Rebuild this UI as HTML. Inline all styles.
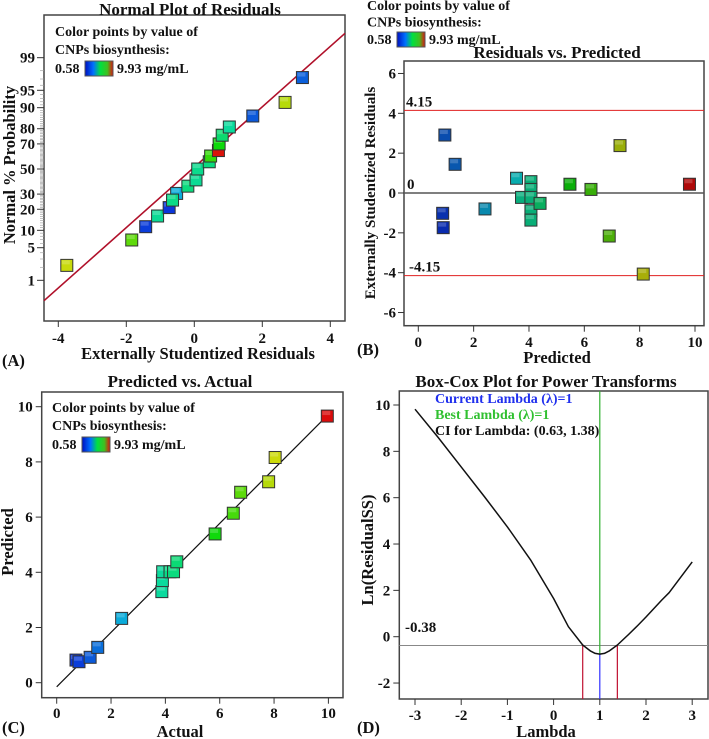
<!DOCTYPE html>
<html><head><meta charset="utf-8"><style>
html,body{margin:0;padding:0;background:#fff;}
svg{display:block;font-family:"Liberation Serif",serif;font-weight:bold;}
</style></head><body>
<svg id="fig" width="709" height="739" viewBox="0 0 709 739" xmlns="http://www.w3.org/2000/svg">
<defs>
<linearGradient id="cbar" x1="0" x2="1" y1="0" y2="0">
<stop offset="0" stop-color="#0010c0"/><stop offset="0.3" stop-color="#0070ff"/><stop offset="0.55" stop-color="#00e040"/><stop offset="0.8" stop-color="#40c020"/><stop offset="1" stop-color="#e01010"/>
</linearGradient>
</defs>
</svg>
<script>
// ---------- Panel A data ----------
const aResid = [-3.75,-1.84,-1.43,-1.08,-0.74,-0.52,-0.64,-0.19,0.05,0.10,0.44,0.48,0.71,0.73,0.82,1.03,1.72,2.67,3.18];
const aProb  = [2.2,6.9,11.4,16.3,21,30.5,25.8,36,41,50,56,60.7,65,70,76,81,86.6,91.8,97.2];
const aVal   = [8.0,6.8,0.8,4.0,0.7,2.4,4.2,4.3,4.0,4.1,4.3,6.3,9.9,5.8,4.5,3.9,1.2,7.8,1.3];
const aXTicks = [-4,-2,0,2,4];
const aYTicks = [1,5,10,20,30,50,70,80,90,95,99];
// ---------- Panel B data ----------
const bPred  = [0.96,1.33,3.55,0.88,0.90,2.41,3.73,4.07,4.07,4.07,4.07,4.07,4.40,5.48,6.24,7.29,6.90,8.13,9.80];
const bResid = [2.91,1.44,0.74,-1.02,-1.74,-0.80,-0.22,0.57,0.18,-0.22,-0.89,-1.36,-0.52,0.44,0.18,2.38,-2.16,-4.07,0.44];
const bVal   = [1.3,1.5,3.0,0.8,0.7,2.4,3.9,4.0,4.0,4.0,4.0,4.0,4.4,5.8,6.5,7.9,6.8,8.1,9.93];
const bXTicks = [0,2,4,6,8,10];
const bYTicks = [-6,-4,-2,0,2,4,6];
const bLimit = 4.15;
// ---------- Panel C data ----------
const cActual = [0.71,0.82,1.23,1.51,2.39,3.87,3.89,3.90,4.17,4.30,4.42,5.83,6.50,6.77,7.80,8.04,9.96];
const cPred   = [0.82,0.76,0.92,1.28,2.33,3.30,3.70,4.02,4.02,4.02,4.38,5.39,6.14,6.90,7.28,8.16,9.66];
const cLineX = [0,10];
const cLineY = [-0.15,9.72];
const cTicks = [0,2,4,6,8,10];
// ---------- Panel D data ----------
const dLambda = [-3,-2.5,-2,-1.5,-1,-0.5,0,0.32,0.63,0.8,0.9,1,1.1,1.2,1.38,1.6,1.83,2,2.34,2.5,3];
const dLnSS   = [9.82,8.6,7.33,6.05,4.74,3.32,1.65,0.43,-0.36,-0.62,-0.72,-0.75,-0.72,-0.62,-0.36,0.05,0.5,0.85,1.58,1.9,3.23];
const dXTicks = [-3,-2,-1,0,1,2,3];
const dYTicks = [-2,0,2,4,6,8,10];
const dRef = -0.38, dCI = [0.63,1.38], dBest = 1;

const NS="http://www.w3.org/2000/svg";
const svg=document.getElementById('fig');
const TK=15, TT=17, AX=16.5, LG=14;
function mk(tag,attrs,parent){const e=document.createElementNS(NS,tag);for(const k in attrs)e.setAttribute(k,attrs[k]);(parent||svg).appendChild(e);return e;}
function txt(x,y,s,size,anchor,fill,parent,rot){const t=mk('text',{x:x,y:y,'font-size':size,'text-anchor':anchor||'start',fill:fill||'#111'},parent);if(rot)t.setAttribute('transform','rotate(-90 '+x+' '+y+')');t.textContent=s;return t;}
function colorOf(v,l){let t=(v-0.58)/9.35;t=Math.max(0,Math.min(1,t));const h=230*Math.pow(1-t,0.8);return 'hsl('+h+',90%,'+(l||45)+'%)';}
function marker(g,x,y,v,l){const r=mk('rect',{x:x-6,y:y-6,width:12,height:12,fill:colorOf(v,l),stroke:'#333','stroke-width':1},g);


mk('rect',{x:x-5,y:y-5,width:8,height:4,fill:'#fff','fill-opacity':0.2},g);}
function legend(g,x,y,sp){
 sp=sp||18;
 txt(x,y,'Color points by value of',LG,'start','#111',g);
 txt(x,y+sp,'CNPs biosynthesis:',LG,'start','#111',g);
 txt(x,y+2*sp+1,'0.58',LG,'start','#111',g);
 mk('rect',{x:x+30,y:y+2*sp-11,width:28,height:15,fill:'url(#cbar)',stroke:'#555','stroke-width':1},g);
 txt(x+62,y+2*sp+1,'9.93 mg/mL',LG,'start','#111',g);}
function ninv(p){const a=[-39.6968302866538,220.946098424521,-275.928510446969,138.357751867269,-30.6647980661472,2.50662827745924],b=[-54.4760987982241,161.585836858041,-155.698979859887,66.8013118877197,-13.2806815528857],c=[-0.00778489400243029,-0.322396458041136,-2.40075827716184,-2.54973253934373,4.37466414146497,2.93816398269878],d=[0.00778469570904146,0.32246712907004,2.445134137143,3.75440866190742];
 const pl=0.02425;let q,r;if(p<pl){q=Math.sqrt(-2*Math.log(p));return(((((c[0]*q+c[1])*q+c[2])*q+c[3])*q+c[4])*q+c[5])/((((d[0]*q+d[1])*q+d[2])*q+d[3])*q+1);}
 if(p>1-pl){q=Math.sqrt(-2*Math.log(1-p));return-(((((c[0]*q+c[1])*q+c[2])*q+c[3])*q+c[4])*q+c[5])/((((d[0]*q+d[1])*q+d[2])*q+d[3])*q+1);}
 q=p-0.5;r=q*q;return(((((a[0]*r+a[1])*r+a[2])*r+a[3])*r+a[4])*r+a[5])*q/(((((b[0]*r+b[1])*r+b[2])*r+b[3])*r+b[4])*r+1);}
function frame(g,L,T,R,B){const f=mk('rect',{x:L,y:T,width:R-L,height:B-T,fill:'none',stroke:'#444','stroke-width':1.5},g);

}

// ===== Panel A =====
(function(){
const g=mk('g',{});


const L=44,R=345,T=15,B=321;
const sx=v=>194.3+v*34, sy=p=>169-ninv(p/100)*47.85;
frame(g,L,T,R,B);
for(let p=2;p<=98;p++){mk('line',{x1:L-4,x2:L,y1:sy(p),y2:sy(p),stroke:'#999','stroke-width':0.6},g);}
aYTicks.forEach(p=>{mk('line',{x1:L-7,x2:L,y1:sy(p),y2:sy(p),stroke:'#333'},g);const t=txt(L-9,sy(p)+5,String(p),TK,'end','#111',g);

});
aXTicks.forEach(v=>{mk('line',{x1:sx(v),x2:sx(v),y1:B,y2:B+6,stroke:'#333'},g);const t=txt(sx(v),343,String(v),TK,'middle','#111',g);

});
const ln=mk('line',{x1:L,y1:300.7,x2:R,y2:33.3,stroke:'#b0102a','stroke-width':1.6},g);


aResid.forEach((v,i)=>marker(g,sx(v),sy(aProb[i]),aVal[i]));
legend(g,55,36);
const ti=txt(190,15,'Normal Plot of Residuals',TT,'middle','#111',g);


const xt=txt(198,359,'Externally Studentized Residuals',AX,'middle','#111',g);


const yt=txt(15,165,'Normal % Probability',AX,'middle','#111',g,true);


txt(2,366,'(A)',AX,'start','#111',g);
})();

// ===== Panel B =====
(function(){
const g=mk('g',{});


const L=404,R=704,T=61,B=325.7;
const sx=v=>418.3+v*27.67, sy=v=>193-v*19.92;
frame(g,L,T,R,B);
bYTicks.forEach(v=>{mk('line',{x1:L-6,x2:L,y1:sy(v),y2:sy(v),stroke:'#333'},g);const t=txt(L-8,sy(v)+5,String(v),TK,'end','#111',g);

});
bXTicks.forEach(v=>{mk('line',{x1:sx(v),x2:sx(v),y1:B,y2:B+6,stroke:'#333'},g);const t=txt(sx(v),347,String(v),TK,'middle','#111',g);

});
[bLimit,-bLimit].forEach(v=>{const l=mk('line',{x1:L,x2:R,y1:sy(v),y2:sy(v),stroke:'#e02020','stroke-width':1},g);

});
const z=mk('line',{x1:L,x2:R,y1:sy(0),y2:sy(0),stroke:'#555','stroke-width':1.5},g);


txt(406,sy(bLimit)-4,bLimit.toFixed(2),TK,'start','#111',g);
txt(407,sy(0)-4,'0',TK,'start','#111',g);
txt(409,sy(-bLimit)-4,(-bLimit).toFixed(2),TK,'start','#111',g);
bPred.forEach((v,i)=>marker(g,sx(v),sy(bResid[i]),bVal[i],36));
legend(g,367,10,16.5);
const ti=txt(557,58,'Residuals vs. Predicted',TT,'middle','#111',g);


const xt=txt(557,363,'Predicted',AX,'middle','#111',g);


const yt=txt(375,193,'Externally Studentized Residuals',15,'middle','#111',g,true);


txt(357,355,'(B)',AX,'start','#111',g);
})();

// ===== Panel C =====
(function(){
const g=mk('g',{});


const L=41.7,R=343,T=392,B=697.7;
const sx=v=>56.7+v*27.17, sy=v=>682.7-v*27.6;
frame(g,L,T,R,B);
cTicks.forEach(v=>{mk('line',{x1:L-6,x2:L,y1:sy(v),y2:sy(v),stroke:'#333'},g);const t=txt(L-9,sy(v)+5,String(v),TK,'end','#111',g);


mk('line',{x1:sx(v),x2:sx(v),y1:B,y2:B+6,stroke:'#333'},g);const u=txt(sx(v),718,String(v),TK,'middle','#111',g);

});
const ln=mk('line',{x1:sx(cLineX[0]),y1:sy(cLineY[0]),x2:sx(cLineX[1]),y2:sy(cLineY[1]),stroke:'#111','stroke-width':1.2},g);


cActual.forEach((v,i)=>marker(g,sx(v),sy(cPred[i]),v));
legend(g,52,412);
const ti=txt(180,387,'Predicted vs. Actual',TT,'middle','#111',g);


const xt=txt(180,737,'Actual',AX,'middle','#111',g);


const yt=txt(13,542,'Predicted',AX,'middle','#111',g,true);


txt(2,733,'(C)',AX,'start','#111',g);
})();

// ===== Panel D =====
(function(){
const g=mk('g',{});


const L=399.3,R=708,T=391,B=699;
const sx=v=>415+(v+3)*46.2, sy=v=>636.7-v*23.17;
frame(g,L,T,R,B);
dYTicks.forEach(v=>{mk('line',{x1:L-6,x2:L,y1:sy(v),y2:sy(v),stroke:'#333'},g);const t=txt(L-9,sy(v)+5,String(v),TK,'end','#111',g);

});
dXTicks.forEach(v=>{mk('line',{x1:sx(v),x2:sx(v),y1:B,y2:B+6,stroke:'#333'},g);const t=txt(sx(v),720,String(v),TK,'middle','#111',g);

});
const h=mk('line',{x1:L,x2:R,y1:sy(dRef),y2:sy(dRef),stroke:'#888','stroke-width':1},g);


dCI.forEach(v=>{const l=mk('line',{x1:sx(v),x2:sx(v),y1:sy(dRef),y2:B,stroke:'#c01030','stroke-width':1.2},g);

});
const minV=Math.min(...dLnSS);
const gl=mk('line',{x1:sx(dBest),x2:sx(dBest),y1:T,y2:sy(minV),stroke:'#30b030','stroke-width':1.2},g);


const bl=mk('line',{x1:sx(dBest),x2:sx(dBest),y1:sy(minV),y2:B,stroke:'#3030ff','stroke-width':1.2},g);


const pts=dLambda.map((v,i)=>sx(v).toFixed(1)+','+sy(dLnSS[i]).toFixed(1)).join(' ');
const pl=mk('polyline',{points:pts,fill:'none',stroke:'#111','stroke-width':1.5,'stroke-linejoin':'round'},g);


txt(405,632,dRef.toFixed(2),TK,'start','#111',g);
txt(435,403,'Current Lambda (λ)=1',LG,'start','#2030ee',g);
txt(435,419,'Best Lambda (λ)=1',LG,'start','#30c030',g);
txt(435,435,'CI for Lambda: (0.63, 1.38)',LG,'start','#111',g);
const ti=txt(546,387,'Box-Cox Plot for Power Transforms',TT,'middle','#111',g);


const xt=txt(546,737,'Lambda',AX,'middle','#111',g);


const yt=txt(373,550,'Ln(ResidualSS)',AX,'middle','#111',g,true);


txt(357,733,'(D)',AX,'start','#111',g);
})();
</script>
</body></html>
